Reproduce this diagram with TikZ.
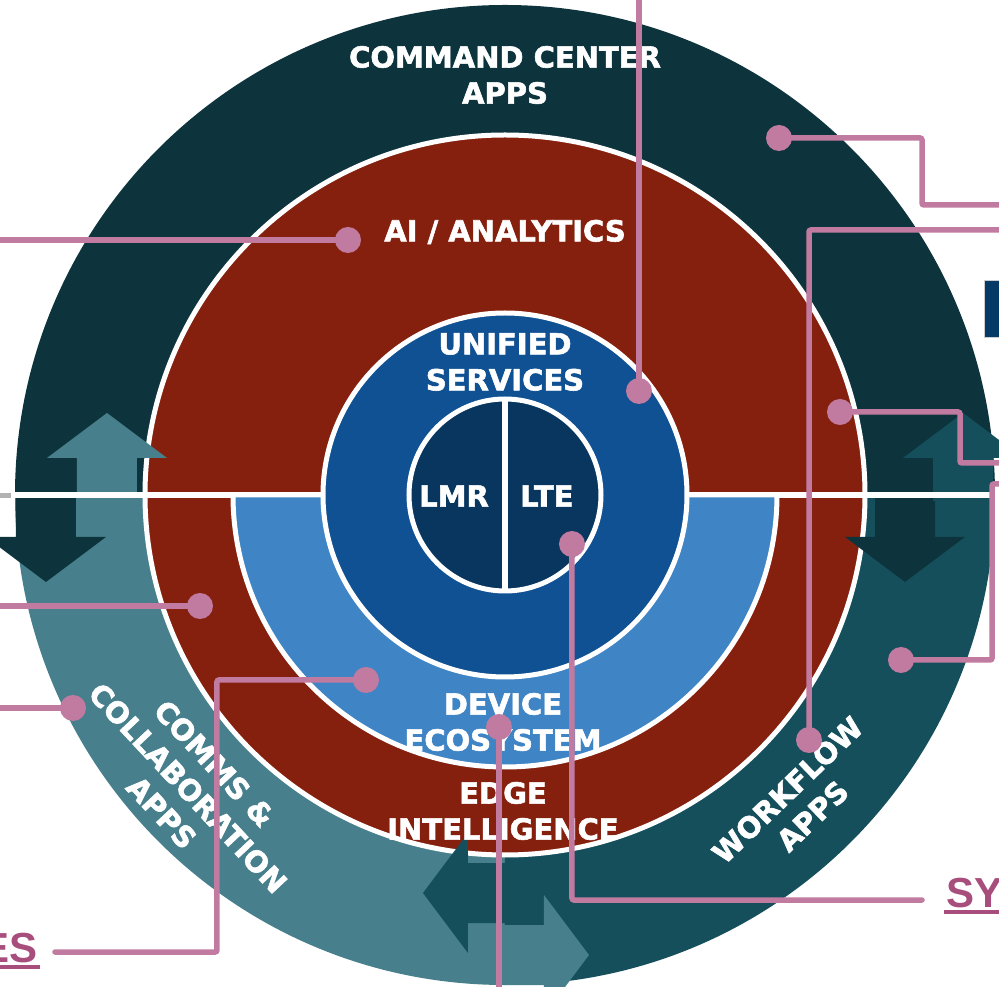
\documentclass[tikz,border=0pt]{standalone}
\usepackage{fontspec}
\usepackage{tikz}
\usetikzlibrary{positioning}
\newfontfamily\heavyfont{DejaVu Sans}[FakeBold=2]
\newfontfamily\linkfont{Liberation Sans}
\definecolor{ccteal}{RGB}{13,52,61}
\definecolor{commsteal}{RGB}{71,128,140}
\definecolor{flowteal}{RGB}{21,79,92}
\definecolor{edgered}{RGB}{133,32,14}
\definecolor{devblue}{RGB}{63,132,197}
\definecolor{unifblue}{RGB}{15,81,147}
\definecolor{coreblue}{RGB}{8,54,95}
\definecolor{boxblue}{RGB}{6,58,102}
\definecolor{linkpink}{RGB}{194,123,160}
\definecolor{linktextpink}{RGB}{168,78,124}
\tikzstyle{ringtext} = [
    text=white,
    align=center,
    inner sep=0pt,
    font=\heavyfont\bfseries\fontsize{29}{36}\selectfont
]
\tikzstyle{linktext} = [
    text=linktextpink,
    inner sep=0pt,
    font=\linkfont\bfseries\fontsize{42}{50}\selectfont
]
\tikzstyle{linkline} = [
    draw=linkpink,
    line width=5.5pt,
    line cap=round,
    rounded corners=2pt
]
\tikzstyle{linkdot} = [
    circle,
    fill=linkpink,
    minimum size=26pt,
    inner sep=0pt
]
\tikzstyle{divider} = [
    draw=white,
    line width=6pt
]

\begin{document}
\begin{tikzpicture}[
    x=1pt, y=1pt,
    blockarrow/.pic={
        \fill (0,0) -- (-60,-45) -- (-30,-45) -- (-30,-88) -- (30,-88) -- (30,-45) -- (60,-45) -- cycle;
    }
]
    \useasboundingbox (-505,-492) rectangle (494,495);
    \fill[ccteal] (0,0) -- (490,0) arc (0:180:490) -- cycle;
    \fill[commsteal] (0,0) -- (-490,0) arc (180:270:490) -- cycle;
    \fill[flowteal] (0,0) -- (0,-490) arc (270:360:490) -- cycle;
    \filldraw[fill=edgered, draw=white, line width=5pt] (0,0) circle (360);
    \foreach \ax/\ay/\ang/\col in {-459/-87/180/ccteal, -398/82/0/commsteal, 400/-87/180/ccteal,
                                   458/82/0/flowteal, -82/-398/90/flowteal, 84/-460/-90/commsteal}
        \pic[fill=\col, rotate=\ang] at (\ax,\ay) {blockarrow};
    \draw[divider] (-505,0) -- (494,0);
    \draw[gray!60, line width=5pt] (-505,-1) -- (-494,-1);
    \filldraw[fill=devblue, draw=white, line width=5pt] (-272,0) arc (180:360:272) -- cycle;
    \filldraw[fill=unifblue, draw=white, line width=5pt] (0,0) circle (182);
    \filldraw[fill=coreblue, draw=white, line width=5pt] (0,0) circle (96);
    \draw[divider] (0,96) -- (0,-96);
    \draw[gray!40, fill=boxblue] (479,215) rectangle (520,158);

    \node[ringtext] (cc) at (0,420) {COMMAND CENTER\\APPS};
    \node[ringtext] (ai) at (0,263) {AI / ANALYTICS};
    \node[ringtext] (us) at (0,133) {UNIFIED\\SERVICES};
    \node[ringtext] (lmr) at (-51,-1) {LMR};
    \node[ringtext, right=31pt of lmr] (lte) {LTE};
    \node[ringtext] (dev) at (-2,-227) {DEVICE\\ECOSYSTEM};
    \node[ringtext] (edgeint) at (-2,-316) {EDGE\\INTELLIGENCE};
    \node[ringtext, rotate=-47] (comms) at (-317,-293) {COMMS \&\\COLLABORATION\\APPS};
    \node[ringtext, rotate=44] (flow) at (295,-308) {WORKFLOW\\APPS};
    \node[linktext, anchor=base west] (sy) at (441,-412) {SY};
    \node[linktext, anchor=base east] (es) at (-467,-467) {ES};
    \draw[linktextpink, line width=4pt] ([shift={(-2,-5)}]sy.base west) -- ([yshift=-5pt]sy.base east);
    \draw[linktextpink, line width=4pt] ([yshift=-5pt]es.base west) -- ([shift={(2,-5)}]es.base east);

    \node[linkdot] (aiDot) at (-157,255) {};
    \node[linkdot] (ccDot) at (274,357) {};
    \node[linkdot] (wfDot) at (304,-245) {};
    \node[linkdot] (usDot) at (134,104) {};
    \node[linkdot] (anaDot) at (335,83) {};
    \node[linkdot] (flowDot) at (396,-165) {};
    \node[linkdot] (lteDot) at (67,-49) {};
    \node[linkdot] (devDot) at (-6,-232) {};
    \node[linkdot] (edgeDot) at (-305,-111) {};
    \node[linkdot] (commsDot) at (-432,-213) {};
    \node[linkdot] (devLDot) at (-139,-185) {};
    \coordinate (aiEnd) at (-505,255);
    \coordinate (ccEnd) at (494,290);
    \coordinate (wfEnd) at (494,265);
    \coordinate (usEnd) at (134,495);
    \coordinate (anaEnd) at (494,32);
    \coordinate (flowEnd) at (494,11);
    \coordinate (lteEnd) at (417,-405);
    \coordinate (devEnd) at (-6,-492);
    \coordinate (edgeEnd) at (-505,-111);
    \coordinate (commsEnd) at (-505,-213);
    \coordinate (devLEnd) at (-450,-457);
    \draw[linkline] (aiDot.center) -- (aiEnd);
    \draw[linkline] (ccDot.center) -- ++(143,0) |- (ccEnd);
    \draw[linkline] (wfDot.center) |- (wfEnd);
    \draw[linkline] (usDot.center) -- (usEnd);
    \draw[linkline] (anaDot.center) -- ++(120,0) |- (anaEnd);
    \draw[linkline] (flowDot.center) -- ++(91,0) |- (flowEnd);
    \draw[linkline] (lteDot.center) |- (lteEnd);
    \draw[linkline] (devDot.center) -- (devEnd);
    \draw[linkline] (edgeDot.center) -- (edgeEnd);
    \draw[linkline] (commsDot.center) -- (commsEnd);
    \draw[linkline] (devLDot.center) -- ++(-149,0) |- (devLEnd);
\end{tikzpicture}
\end{document}
